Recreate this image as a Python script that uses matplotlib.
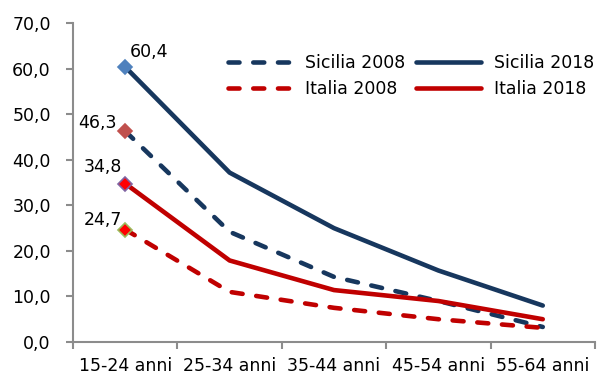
import matplotlib
matplotlib.use("Agg")
import matplotlib.pyplot as plt

plt.rcParams['font.family'] = ['DejaVu Sans']

categories = ["15-24 anni", "25-34 anni", "35-44 anni", "45-54 anni", "55-64 anni"]
sicilia_2008 = [46.3, 24.2, 14.3, 9.0, 3.3]
sicilia_2018 = [60.4, 37.2, 25.0, 15.7, 8.0]
italia_2008 = [24.7, 11.0, 7.5, 5.0, 3.1]
italia_2018 = [34.8, 17.9, 11.4, 9.0, 5.0]
y_ticks = [0, 10, 20, 30, 40, 50, 60, 70]

NAVY = "#17375E"
RED = "#C00000"
AXIS_GREY = "#8C8C8C"
FS = 12.5

fig = plt.figure(figsize=(6.02, 3.81), dpi=100)
ax = fig.add_axes([0.1213, 0.1024, 0.867, 0.8366])

x = list(range(len(categories)))
lw = 3.3
dash = (2.4, 3.0)

series = [
    ("Sicilia 2008", sicilia_2008, NAVY, True, "#C0504D", "#C0504D"),
    ("Sicilia 2018", sicilia_2018, NAVY, False, "#4F81BD", "#4F81BD"),
    ("Italia 2008", italia_2008, RED, True, "#FF0000", "#9BBB59"),
    ("Italia 2018", italia_2018, RED, False, "#FF0000", "#8064A2"),
]

handles = {}
for name, vals, color, dashed, mfc, mec in series:
    line, = ax.plot(x, vals, color=color, lw=lw, solid_capstyle="round",
                    dash_capstyle="round", solid_joinstyle="round", zorder=3,
                    label=name)
    if dashed:
        line.set_dashes(dash)
    ax.plot(x[0], vals[0], marker="D", ms=7.5, mfc=mfc, mec=mec, mew=1.2,
            ls="none", zorder=5)
    handles[name] = line

# value labels on the first age group
label_offsets = {
    "Sicilia 2018": (17, 11),
    "Sicilia 2008": (-20, 6),
    "Italia 2018": (-16, 12),
    "Italia 2008": (-16, 7),
}
for name, vals, *_ in series:
    dx, dy = label_offsets[name]
    ax.annotate(f"{vals[0]:.1f}".replace(".", ","), (x[0], vals[0]),
                xytext=(dx, dy), textcoords="offset points",
                ha="center", va="center", fontsize=FS, color="#000000",
                zorder=6)

ax.set_xlim(-0.5, len(categories) - 0.5)
ax.set_ylim(0, 70)
ax.set_yticks(y_ticks)
ax.set_yticklabels([f"{v:.1f}".replace(".", ",") for v in y_ticks])
ax.set_xticks(x)
ax.set_xticklabels(categories)
ax.set_xticks([i - 0.5 for i in range(len(categories) + 1)], minor=True)

for s in ("top", "right"):
    ax.spines[s].set_visible(False)
for s in ("left", "bottom"):
    ax.spines[s].set_color(AXIS_GREY)
    ax.spines[s].set_linewidth(1.5)

ax.tick_params(axis="y", which="major", length=5, width=1.5, color=AXIS_GREY,
               labelsize=FS, pad=11)
ax.tick_params(axis="x", which="major", length=0, labelsize=FS, pad=11)
ax.tick_params(axis="x", which="minor", length=5, width=1.5, color=AXIS_GREY)

order = ["Sicilia 2008", "Italia 2008", "Sicilia 2018", "Italia 2018"]
leg = ax.legend([handles[n] for n in order], order, ncol=2, loc="upper left",
                bbox_to_anchor=(0.297, 0.903), frameon=False, fontsize=FS,
                handlelength=3.7, handletextpad=0.75, columnspacing=0.63,
                labelspacing=0.48, borderaxespad=0, borderpad=0)

fig.savefig("out.png", dpi=100)
